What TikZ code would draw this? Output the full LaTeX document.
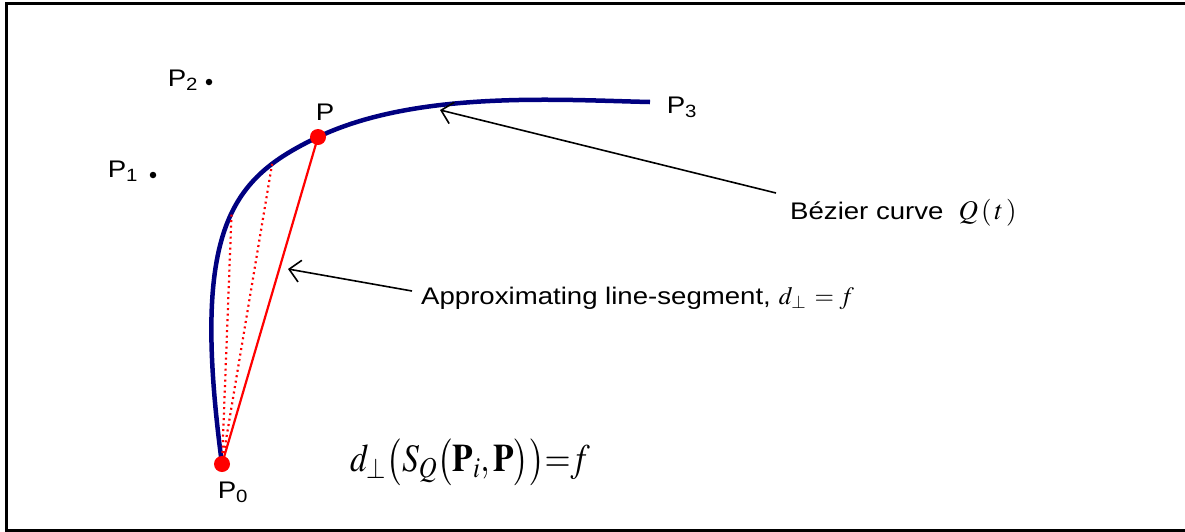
\documentclass[tikz,border=0pt]{standalone}
\usepackage{mathptmx}
\usepackage{fontspec}
\setmainfont{Liberation Sans}
\usetikzlibrary{arrows.meta}
\definecolor{curveblue}{RGB}{0,0,128}
\newcommand{\hstr}[1]{\scalebox{1.15}[1]{#1}}
\begin{document}
\begin{tikzpicture}[x=1pt,y=-1pt,
  lbl/.style={inner sep=0pt, font=\fontsize{24}{28}\selectfont},
  reddot/.style={circle, fill=red, draw=none, minimum size=16pt, inner sep=0pt},
  blackdot/.style={circle, fill=black, draw=none, minimum size=6.5pt, inner sep=0pt},
  curvestyle/.style={draw=curveblue, line width=4.5pt},
  segline/.style={draw=red, line width=2.2pt},
  dotline/.style={draw=red, line width=2.2pt, dash pattern=on 2pt off 3.5pt},
  pointer/.style={draw=black, line width=1.6pt, -{Straight Barb[length=11pt,width=22pt,line width=1.6pt]}}
]
\useasboundingbox (0,0) rectangle (1185,531);
\draw[line width=3pt] (1185,3) -- (6,3) -- (6,530) -- (1185,530);

% control points
\coordinate (C0) at (222,464);
\coordinate (CP) at (318,137);
\coordinate (P3) at (650,102);

% curve
\draw[curvestyle] (C0) .. controls (190,225) and (232.5,178) .. (CP)
  coordinate[pos=0.55] (Qa) coordinate[pos=0.8] (Qb)
  .. controls (417,90) and (560,100) .. (P3);

% dots
\node[blackdot] (P1d) at (153,175) {};
\node[blackdot] (P2d) at (209,82) {};

% lines
\draw[dotline] (C0) -- (Qa);
\draw[dotline] (C0) -- (Qb);
\draw[segline] (C0) -- (CP);
\node[reddot] (P0) at (C0) {};
\node[reddot] (P) at (CP) {};

% labels
\node[lbl] (L0) at (233,492) {\hstr{P\textsubscript{0}}};
\node[lbl] (LP) at (325,112) {\hstr{P}};
\node[lbl] (L1) at (123,171) {\hstr{P\textsubscript{1}}};
\node[lbl] (L2) at (183,80) {\hstr{P\textsubscript{2}}};
\node[lbl] (L3) at (682,107) {\hstr{P\textsubscript{3}}};

\node[lbl, anchor=west] (LB) at (790,213) {\hstr{Bézier curve}\hspace{15pt}{\fontsize{27}{30}\selectfont$Q\,(\,t\,)$}};
\node[lbl, anchor=west] (LA) at (421,298) {\hstr{Approximating line-segment,}\hspace{8pt}{\fontsize{25}{28}\selectfont$d_{\perp}\mskip6mu{=}\mskip4mu f$}};
\node[inner sep=0pt, anchor=west, font=\fontsize{39}{42}\selectfont] (LF) at (350,462) {\scalebox{0.86}[1]{$d_{\perp}\bigl(S_Q\bigl(\mathbf{P}_i,\mathbf{P}\bigr)\bigr)\mathord{=}f$}};

% pointers
\coordinate (A1s) at (776,193);
\coordinate (A1t) at (440,110);
\coordinate (A2s) at (412,291);
\coordinate (A2t) at (288,269);
\draw[pointer] (A1s) -- (A1t);
\draw[pointer] (A2s) -- (A2t);
\end{tikzpicture}
\end{document}
